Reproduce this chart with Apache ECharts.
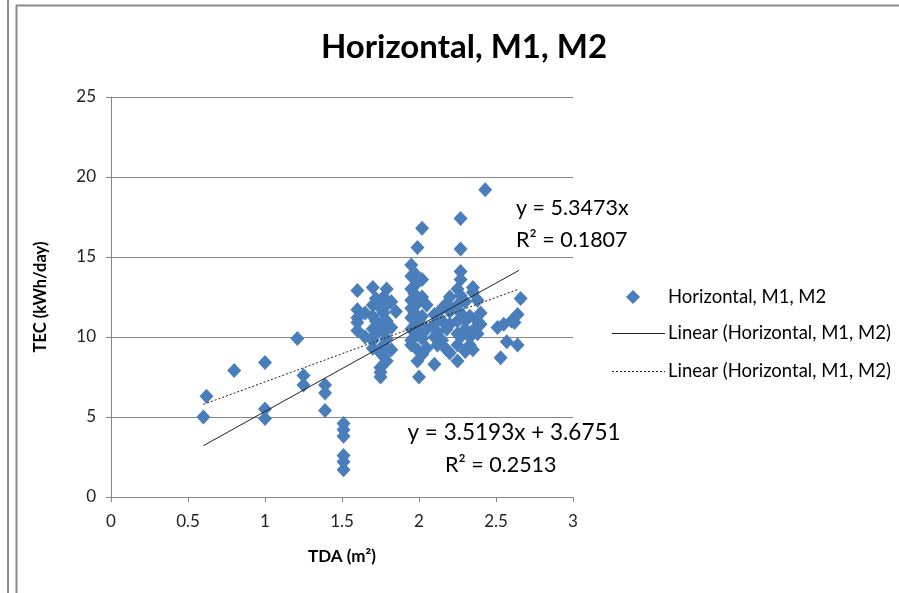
<!DOCTYPE html>
<html>
<head>
<meta charset="utf-8">
<script src="https://cdn.jsdelivr.net/npm/echarts@6/dist/echarts.min.js"></script>
<style>html,body{margin:0;padding:0;background:#fff;}#c{width:899px;height:593px;}</style>
</head>
<body>
<div id="c"></div>
<script>
// ---- data ----
const tdaValues = [
  0.6, 0.62, 0.8, 1.0, 1.0, 1.0, 1.21, 1.25, 1.25, 1.39, 1.39, 1.39,
  1.51, 1.51, 1.51, 1.51, 1.51, 1.51,
  1.6, 1.6, 1.6, 1.6, 1.6, 1.65, 1.65,
  1.7, 1.7, 1.7, 1.7, 1.7, 1.7,
  1.72, 1.72, 1.72,
  1.75, 1.75, 1.75, 1.75, 1.75, 1.75,
  1.77, 1.77, 1.77, 1.77, 1.77,
  1.79, 1.79, 1.79, 1.79, 1.79,
  1.82, 1.82, 1.82, 1.85,
  1.95, 1.95, 1.95, 1.95, 1.95, 1.95, 1.95, 1.95, 1.95,
  1.97, 1.97, 1.97, 1.97,
  1.99, 1.99, 1.99, 1.99, 1.99, 1.99,
  2.0, 2.0, 2.0,
  2.02, 2.02, 2.02, 2.02, 2.02, 2.02,
  2.05, 2.05, 2.05,
  2.1, 2.1, 2.1, 2.1, 2.12, 2.12,
  2.15, 2.15, 2.15, 2.18, 2.18, 2.18,
  2.2, 2.2, 2.2, 2.2,
  2.25, 2.25, 2.25, 2.25, 2.25, 2.25,
  2.27, 2.27, 2.27, 2.27, 2.27, 2.27, 2.27,
  2.3, 2.3, 2.3, 2.3, 2.33, 2.33, 2.33,
  2.35, 2.35, 2.35, 2.35, 2.38, 2.38, 2.38,
  2.4, 2.4, 2.43,
  2.51, 2.53, 2.55, 2.57, 2.6, 2.62, 2.64, 2.64, 2.66
];
const tecValues = [
  5.0, 6.3, 7.9, 8.4, 5.5, 4.9, 9.9, 7.6, 7.0, 7.0, 6.5, 5.4,
  4.6, 4.2, 3.8, 2.6, 2.2, 1.7,
  12.9, 11.7, 11.2, 10.9, 10.4, 11.5, 10.0,
  13.1, 12.0, 11.3, 10.5, 9.8, 9.3,
  12.4, 11.0, 10.2,
  11.8, 10.8, 9.0, 8.1, 7.5, 7.8,
  12.5, 11.5, 10.3, 8.8, 9.5,
  13.0, 12.0, 11.0, 9.9, 8.5,
  12.2, 10.6, 9.2, 11.6,
  14.5, 13.8, 13.0, 12.3, 11.8, 11.2, 10.5, 9.8, 9.5,
  14.0, 12.7, 11.5, 10.0,
  15.6, 13.4, 12.1, 10.8, 9.2, 8.5,
  7.5, 10.2, 11.0,
  16.8, 13.6, 12.5, 11.3, 9.9, 8.9,
  12.0, 10.5, 9.3,
  8.3, 10.0, 10.8, 11.4, 9.5, 10.3,
  11.0, 9.8, 11.8, 10.5, 9.2, 12.1,
  9.0, 10.8, 11.6, 12.5,
  8.5, 9.5, 10.2, 11.0, 12.0, 13.0,
  17.4, 15.5, 14.1, 13.6, 12.6, 11.5, 10.0,
  9.1, 10.5, 12.2, 11.0, 10.0, 9.5, 11.3,
  9.2, 10.4, 12.8, 13.1, 11.0, 10.2, 12.3,
  11.5, 10.8, 19.2,
  10.6, 8.7, 10.8, 9.7, 11.0, 10.9, 11.4, 9.5, 12.4
];
const xTicks = [0, 0.5, 1, 1.5, 2, 2.5, 3];
const yTicks = [0, 5, 10, 15, 20, 25];
const seriesName = 'Horizontal, M1, M2';
const trendName = 'Linear (Horizontal, M1, M2)';
const slopeZero = 5.3473;          // y = 5.3473x, R² = 0.1807
const slopeLin = 3.5193, interceptLin = 3.6751; // y = 3.5193x + 3.6751, R² = 0.2513
const trendRange = [0.6, 2.65];

const points = tdaValues.map((x, i) => [x, tecValues[i]]);
const zeroLine = trendRange.map(x => [x, slopeZero * x]);
const linLine = trendRange.map(x => [x, slopeLin * x + interceptLin]);

const FONT = 'Lato, "Open Sans", sans-serif';
function txt(x, y, text, font, align) {
  return {type: 'text', x: x, y: y, style: {text: text, font: font, fill: '#000', textAlign: align || 'left', textVerticalAlign: 'middle'}};
}
const chart = echarts.init(document.getElementById('c'), null, {renderer: 'canvas'});
chart.setOption({
  animation: false,
  backgroundColor: '#ffffff',
  grid: {left: 111, right: 326, top: 97, bottom: 96},
  xAxis: {
    type: 'value', min: xTicks[0], max: xTicks[xTicks.length - 1], interval: 0.5,
    name: 'TDA (m²)', nameLocation: 'middle', nameGap: 51,
    nameTextStyle: {fontFamily: FONT, fontSize: 17, fontWeight: 'bold', color: '#000'},
    axisLine: {lineStyle: {color: '#868686', width: 1}},
    axisTick: {show: true, length: 5, lineStyle: {color: '#868686'}},
    axisLabel: {fontFamily: FONT, fontSize: 17, color: '#222', margin: 16},
    splitLine: {show: false}
  },
  yAxis: {
    type: 'value', min: yTicks[0], max: yTicks[yTicks.length - 1], interval: 5,
    name: 'TEC (kWh/day)', nameLocation: 'middle', nameGap: 62, nameRotate: 90,
    nameTextStyle: {fontFamily: FONT, fontSize: 16.5, fontWeight: 'bold', color: '#000'},
    axisLine: {show: true, lineStyle: {color: '#868686', width: 1}},
    axisTick: {show: true, length: 5, lineStyle: {color: '#868686'}},
    axisLabel: {fontFamily: FONT, fontSize: 17, color: '#222', margin: 15},
    splitLine: {show: true, lineStyle: {color: '#868686', width: 1}}
  },
  series: [
    {
      name: seriesName, type: 'scatter', data: points,
      symbol: 'diamond', symbolSize: [14, 15],
      itemStyle: {color: '#4a7ebb', opacity: 1}
    },
    {
      name: trendName, type: 'line', data: zeroLine, symbol: 'none',
      lineStyle: {color: '#222', width: 1, type: 'solid'}, z: 5
    },
    {
      name: trendName + ' ', type: 'line', data: linLine, symbol: 'none',
      lineStyle: {color: '#222', width: 1, type: [2, 2]}, z: 5
    }
  ],
  graphic: [
    {type: 'line', shape: {x1: 8, y1: 0, x2: 8, y2: 593}, style: {stroke: '#8a8a8a', lineWidth: 2}},
    {type: 'line', shape: {x1: 16.5, y1: 5, x2: 16.5, y2: 593}, style: {stroke: '#8a8a8a', lineWidth: 2}},
    {type: 'line', shape: {x1: 16, y1: 5.5, x2: 899, y2: 5.5}, style: {stroke: '#8a8a8a', lineWidth: 2}},
    txt(464, 47, 'Horizontal, M1, M2', 'bold 33px ' + FONT, 'center'),
    txt(516, 208, 'y = 5.3473x', '21.5px ' + FONT),
    txt(516, 240, 'R² = 0.1807', '21.5px ' + FONT),
    txt(514, 433, 'y = 3.5193x + 3.6751', '22.5px ' + FONT, 'center'),
    txt(445, 465, 'R² = 0.2513', '21.5px ' + FONT),
    // legend
    {type: 'polygon', shape: {points: [[633, 290], [640, 297], [633, 304], [626, 297]]}, style: {fill: '#4a7ebb'}},
    txt(668, 297, seriesName, '18.5px ' + FONT),
    {type: 'line', shape: {x1: 612, y1: 333.5, x2: 665, y2: 333.5}, style: {stroke: '#222', lineWidth: 1}},
    txt(668, 333, trendName, '18.5px ' + FONT),
    {type: 'line', shape: {x1: 612, y1: 371.5, x2: 665, y2: 371.5}, style: {stroke: '#222', lineWidth: 1, lineDash: [2, 2]}},
    txt(668, 371, trendName, '18.5px ' + FONT)
  ]
});
</script>
</body>
</html>
